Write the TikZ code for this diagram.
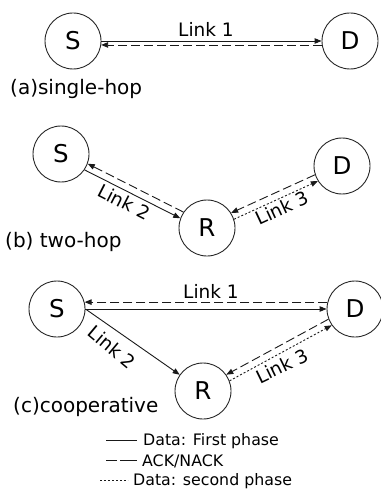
\documentclass[tikz,border=0pt]{standalone}
\usepackage{fontspec}
\setmainfont{DejaVu Sans}
\usetikzlibrary{arrows.meta}
\begin{document}
\begin{tikzpicture}[x=1pt,y=-1pt,
  station/.style={circle,draw=black!85,line width=0.9pt,minimum size=56pt,inner sep=0pt,
    font=\fontsize{24.5}{24.5}\selectfont},
  tiphead/.style={-{Triangle[length=7pt,width=5.5pt]}},
  datalink/.style={line width=0.9pt,draw=black!90,tiphead},
  acklink/.style={datalink,dash pattern=on 9pt off 4pt},
  relaylink/.style={datalink,dash pattern=on 2pt off 2pt},
  lbl/.style={font=\fontsize{18.5}{20}\selectfont,inner sep=0pt},
  caption/.style={font=\fontsize{20}{22}\selectfont,inner sep=0pt,anchor=base west},
  keytext/.style={font=\fontsize{15.8}{18}\selectfont,inner sep=0pt,anchor=base west},
  keyline/.style={line width=0.9pt,draw=black!90}]
\useasboundingbox (0,0) rectangle (380,489);

% (a) single-hop
\node[station] (Sa) at (73,41) {S};
\node[station] (Da) at (350,41) {D};
\draw[datalink] (Sa.east) -- (Da.west);
\draw[acklink] (Da.188) -- (Sa.-8);
\node[lbl,anchor=base] (L1a) at (206,37) {Link 1};
\node[caption] (Ca) at (10,95) {(a)single-hop};

% (b) two-hop
\node[station] (Sb) at (61,154) {S};
\node[station] (Rb) at (207,228) {R};
\node[station] (Db) at (342,166) {D};
\draw[acklink] (Rb.146) -- (Sb.-20);
\draw[datalink] (Sb.-34) -- (Rb.160);
\draw[acklink] (Db.198) -- (Rb.32);
\draw[relaylink] (Rb.18) -- (Db.212);
\node[lbl,rotate=-27] (L2b) at (124,202) {Link 2};
\node[lbl,rotate=25] (L3b) at (282,208) {Link 3};
\node[caption] (Cb) at (5,247) {(b) two-hop};

% (c) cooperative
\node[station] (Sc) at (57,309) {S};
\node[station] (Dc) at (355,309) {D};
\node[station] (Rc) at (203,391) {R};
\draw[acklink] (Dc.166) -- (Sc.14);
\draw[datalink] (Sc.east) -- (Dc.west);
\draw[datalink] (Sc.east) -- (Rc);
\draw[acklink] (Dc.201) -- (Rc.35);
\draw[relaylink] (Rc.21) -- (Dc.215);
\node[lbl,anchor=base] (L1c) at (211,298) {Link 1};
\node[lbl,rotate=-40] (L2c) at (112,347) {Link 2};
\node[lbl,rotate=26] (L3c) at (282,366) {Link 3};
\node[caption] (Cc) at (13,412) {(c)cooperative};

% legend
\coordinate (k1a) at (106,440); \coordinate (k1b) at (137,440);
\coordinate (k2a) at (106,460); \coordinate (k2b) at (137,460);
\coordinate (k3a) at (100,480); \coordinate (k3b) at (128,480);
\draw[keyline] (k1a) -- (k1b);
\draw[keyline,dash pattern=on 11pt off 3pt on 17pt off 3pt] (k2a) -- (k2b);
\draw[keyline,dash pattern=on 2pt off 2pt] (k3a) -- (k3b);
\node[keytext] (K1) at (143,445) {Data: First phase};
\node[keytext] (K2) at (142,466) {ACK/NACK};
\node[keytext] (K3) at (133,485) {Data: second phase};
\end{tikzpicture}
\end{document}
